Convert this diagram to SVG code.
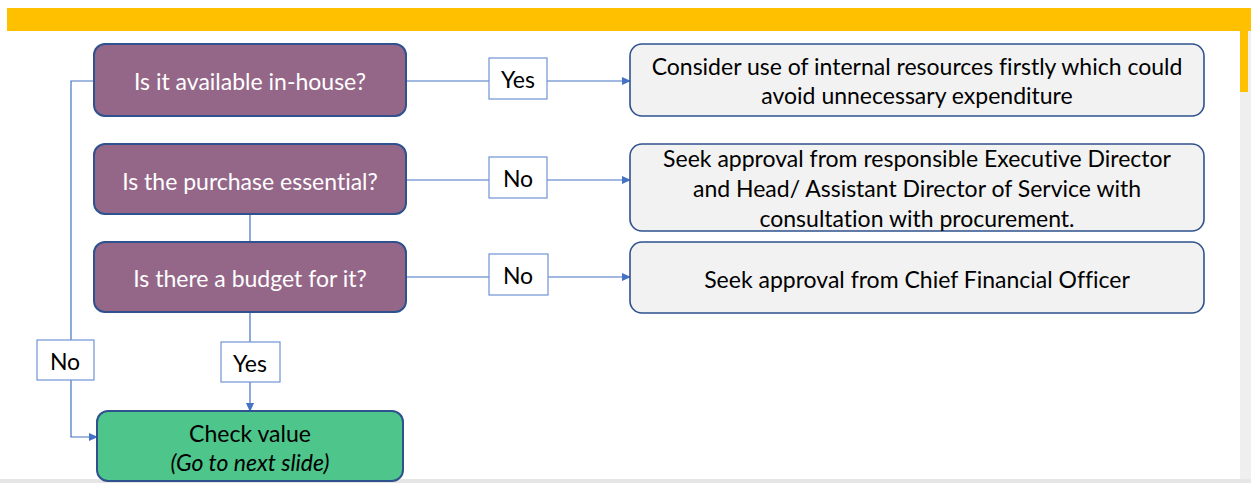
<svg xmlns="http://www.w3.org/2000/svg" width="1251" height="483" viewBox="0 0 1251 483">
<style>
.q{fill:#946788;stroke:#2f528f;stroke-width:2}
.r{fill:#f2f2f2;stroke:#2f528f;stroke-width:1.6}
.g{fill:#4dc58b;stroke:#2f528f;stroke-width:2}
.lb{fill:#fff;stroke:#6f93d4;stroke-width:1.2}
.c{fill:none;stroke:#4472c4;stroke-width:1.2}
text{font-family:"Lato","Open Sans",sans-serif;font-size:23px;text-anchor:middle;dominant-baseline:central;font-variant-ligatures:none}
.w{fill:#fff}
.k{fill:#000}
</style>
<defs>
<marker id="a" markerWidth="10" markerHeight="10" refX="8" refY="5" orient="auto" markerUnits="userSpaceOnUse">
<path d="M0,1 L9,5 L0,9 Z" fill="#4472c4"/>
</marker>
</defs>
<rect x="0" y="0" width="1251" height="483" fill="#fff"/>
<rect x="1240" y="31" width="11" height="452" fill="#efefef"/>
<rect x="0" y="479" width="1251" height="4" fill="#e6e6e6"/>
<rect x="7" y="8" width="1244" height="23" fill="#ffc000"/>
<rect x="1240" y="31" width="8" height="61" fill="#ffc000"/>

<g id="connectors">
<path class="c" d="M406,81 H630" marker-end="url(#a)"/>
<path class="c" d="M406,180 H630" marker-end="url(#a)"/>
<path class="c" d="M406,277 H630" marker-end="url(#a)"/>
<path class="c" d="M94,81 H71 V437 H97" marker-end="url(#a)"/>
<path class="c" d="M250,214 V242"/>
<path class="c" d="M250,312 V411" marker-end="url(#a)"/>
</g>

<g id="n1"><rect class="q" x="94" y="44" width="312" height="72" rx="11"/><text class="w" x="250" y="81">Is it available in-house?</text></g>
<g id="n2"><rect class="q" x="94" y="144" width="312" height="70" rx="11"/><text class="w" x="250" y="181">Is the purchase essential?</text></g>
<g id="n3"><rect class="q" x="94" y="242" width="312" height="70" rx="11"/><text class="w" x="250" y="278">Is there a budget for it?</text></g>
<g id="n4"><rect class="g" x="97" y="411" width="306" height="70" rx="11"/><text class="k" x="250" y="433">Check value</text><text class="k" x="250" y="462" font-style="italic">(Go to next slide)</text></g>

<g id="r1"><rect class="r" x="630" y="44" width="574" height="72" rx="12"/><text class="k" x="917" y="66">Consider use of internal resources firstly which could</text><text class="k" x="917" y="95">avoid unnecessary expenditure</text></g>
<g id="r2"><rect class="r" x="630" y="144" width="574" height="87" rx="12"/><text class="k" x="917" y="158">Seek approval from responsible Executive Director</text><text class="k" x="917" y="188">and Head/ Assistant Director of Service with</text><text class="k" x="917" y="218">consultation with procurement.</text></g>
<g id="r3"><rect class="r" x="630" y="242" width="574" height="71" rx="12"/><text class="k" x="917" y="279">Seek approval from Chief Financial Officer</text></g>

<g id="l1"><rect class="lb" x="489" y="58" width="58" height="41"/><text class="k" x="518" y="79">Yes</text></g>
<g id="l2"><rect class="lb" x="489" y="157" width="58" height="41"/><text class="k" x="518" y="178">No</text></g>
<g id="l3"><rect class="lb" x="489" y="254" width="59" height="41"/><text class="k" x="518" y="275">No</text></g>
<g id="l4"><rect class="lb" x="37" y="340" width="57" height="40"/><text class="k" x="65" y="361">No</text></g>
<g id="l5"><rect class="lb" x="221" y="342" width="59" height="40"/><text class="k" x="250" y="363">Yes</text></g>
</svg>
